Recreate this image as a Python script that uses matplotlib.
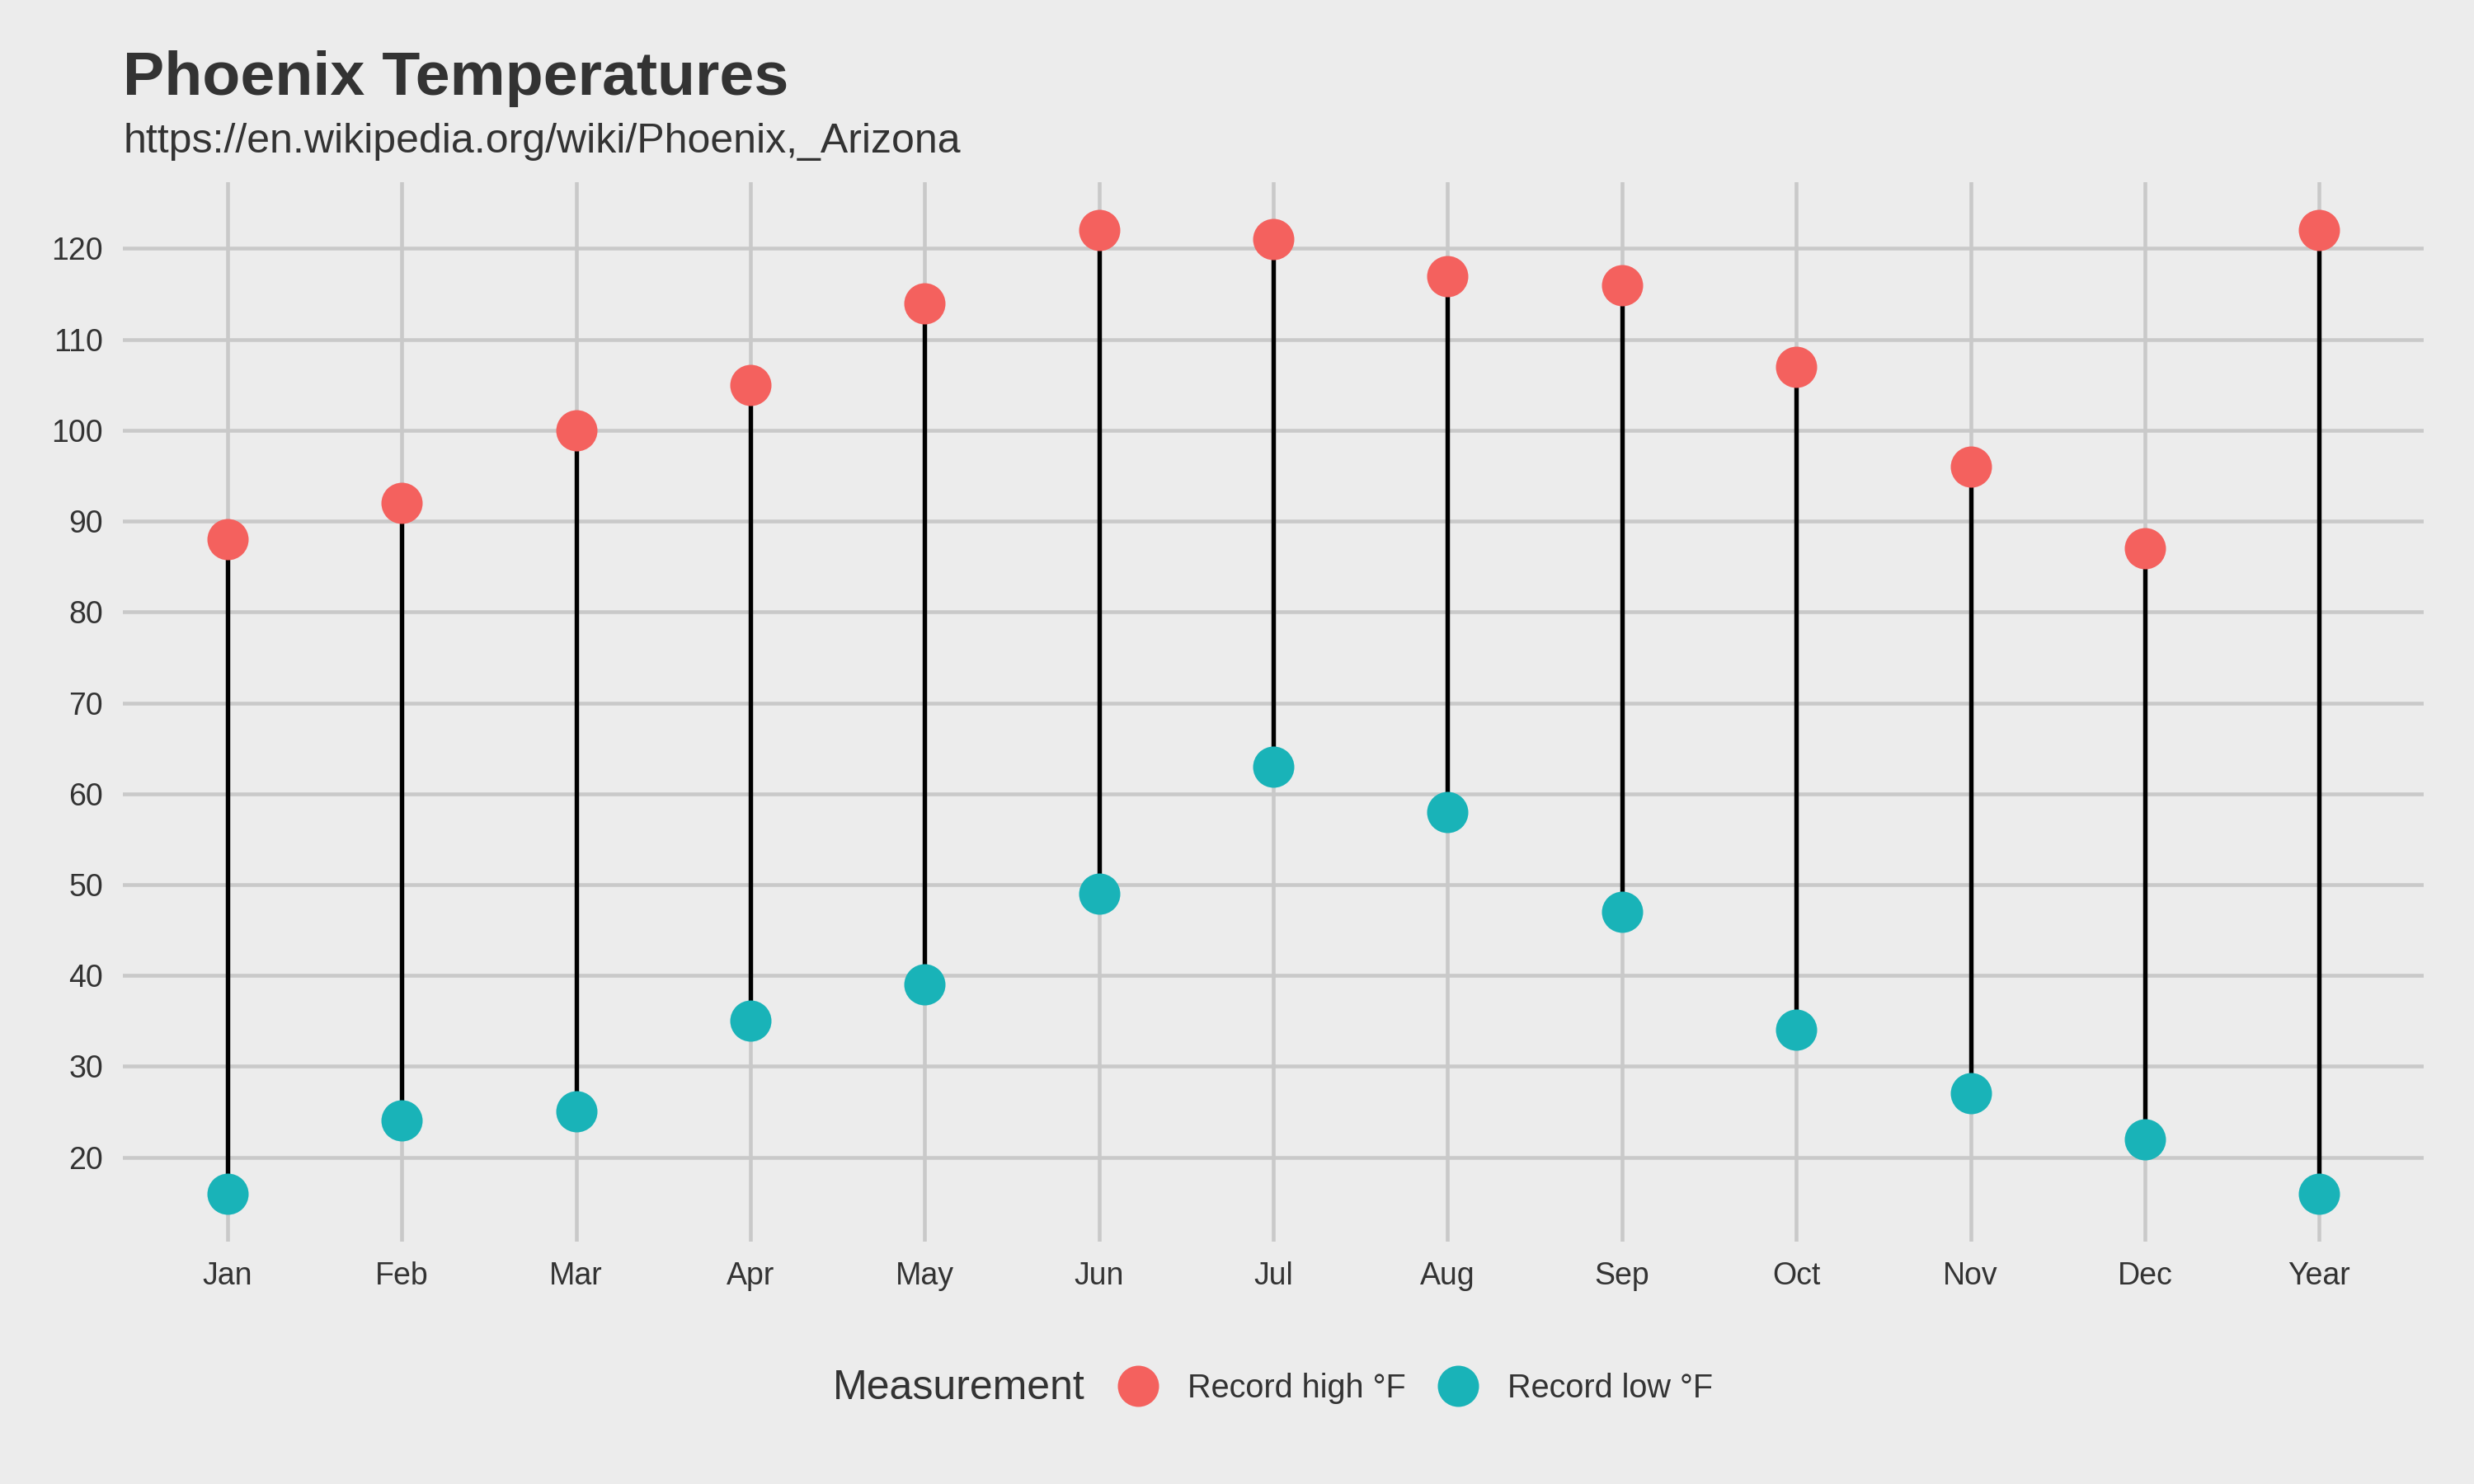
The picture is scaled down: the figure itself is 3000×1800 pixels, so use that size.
import numpy as np
import matplotlib
matplotlib.use("Agg")
import matplotlib.pyplot as plt
from matplotlib.lines import Line2D

# data
months = ['Jan', 'Feb', 'Mar', 'Apr', 'May', 'Jun', 'Jul', 'Aug', 'Sep', 'Oct', 'Nov', 'Dec', 'Year']
record_high = [88, 92, 100, 105, 114, 122, 121, 117, 116, 107, 96, 87, 122]
record_low = [16, 24, 25, 35, 39, 49, 63, 58, 47, 34, 27, 22, 16]

bg = '#ECECEC'
grid_col = '#C9C9C9'
txt = '#333333'
red = '#F4615E'
teal = '#19B3B8'

plt.rcParams['font.family'] = ['Liberation Sans', 'DejaVu Sans']

fig = plt.figure(figsize=(10, 6), dpi=300, facecolor=bg)
ax = fig.add_axes([0.0497, 0.1633, 0.930, 0.7139], facecolor=bg)

x = np.arange(len(months))
ax.vlines(x, record_low, record_high, color='black', lw=1.3, zorder=2)
ax.scatter(x, record_high, s=144, color=red, zorder=3, linewidths=0)
ax.scatter(x, record_low, s=144, color=teal, zorder=3, linewidths=0)

ax.set_xlim(-0.6, len(months) - 1 + 0.6)
lo, hi = min(record_low), max(record_high)
pad = (hi - lo) * 0.05
ax.set_ylim(lo - pad, hi + pad)

ax.set_xticks(x)
ax.set_xticklabels(months)
ax.set_yticks(np.arange(20, 121, 10))
ax.tick_params(length=0, labelsize=9, labelcolor=txt, pad=5.8)

ax.grid(True, color=grid_col, lw=1.1)
ax.set_axisbelow(True)
for s in ax.spines.values():
    s.set_visible(False)

# title and subtitle
fig.text(0.0497, 1 - 115 / 1800, 'Phoenix Temperatures', fontsize=18.1, fontweight='bold',
         color=txt, ha='left', va='baseline')
fig.text(0.0497, 1 - 185 / 1800, 'https://en.wikipedia.org/wiki/Phoenix,_Arizona', fontsize=12,
         color=txt, ha='left', va='baseline')

# legend at the bottom, title on the left
ly = 1 - 1684 / 1800
fig.text(1010 / 3000, ly, 'Measurement', fontsize=12, color=txt,
         ha='left', va='center')
handles = [Line2D([], [], marker='o', ls='', markersize=12, markerfacecolor=red, markeredgewidth=0),
           Line2D([], [], marker='o', ls='', markersize=12, markerfacecolor=teal, markeredgewidth=0)]
leg = fig.legend(handles, ['Record high °F', 'Record low °F'], ncol=2, frameon=False,
                 loc='center left', bbox_to_anchor=(1315 / 3000, ly),
                 fontsize=9.5, labelcolor=txt, handletextpad=0.77, columnspacing=0.84,
                 handlelength=1.5)

fig.savefig('out.png', dpi=300, facecolor=bg)
